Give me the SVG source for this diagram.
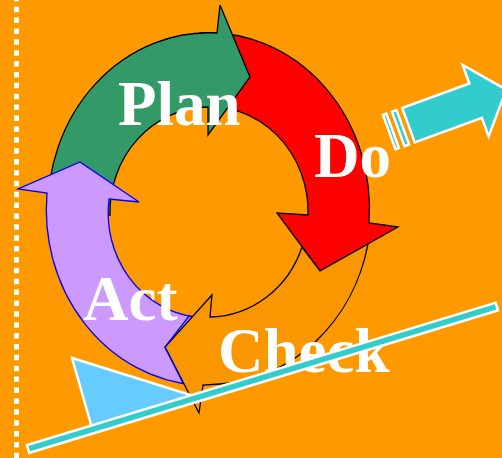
<svg xmlns="http://www.w3.org/2000/svg" width="502" height="458" viewBox="0 0 502 458">
<style>
.lbl{font-family:"Liberation Serif","Times New Roman",serif;font-weight:bold;font-size:63px;fill:#FFFFFF}
.blk{stroke:#000000;stroke-width:1.3;stroke-linejoin:miter}
.wht{stroke:#FFFFFF;stroke-width:2.5;stroke-linejoin:miter}
</style>
<rect x="0" y="0" width="502" height="458" fill="#FF9900"/>
<line x1="16.5" y1="-4.18" x2="16.5" y2="460" stroke="#FFFFFF" stroke-width="5" stroke-dasharray="5.5 5.38"/>
<g id="connectors">
<g id="do-arrow">
<path class="blk" fill="#FF0000" d="M200,33 A161 176 0 0 1 369,223 L398,227 L320,271 L277,213 L308,215 A99 105 0 0 0 200,107 Z"/>
</g>
<g id="plan-arrow">
<path class="blk" fill="#339966" d="M48,215 A161 176 0 0 1 217,33 L220,5 L250,77 L208,135 L208,107 A99 105 0 0 0 110,215 Z"/>
</g>
<g id="act-arrow">
<path stroke="#0000FF" stroke-width="1.3" fill="#CC99FF" d="M47,193 A161 176 0 0 0 195,385 L195,317 A99 105 0 0 1 109,199 L139,202 L80,162 L18,189 Z"/>
</g>
<g id="check-arrow">
<path class="blk" fill="#F99600" d="M302,247 L320,271 L368,244 A161 176 0 0 1 220,384 L203,385 L199,413 L165,347 L212,295 L210,317 A99 105 0 0 0 302,247 Z"/>
<polyline points="190,315 165,347 183,383" fill="none" stroke="#0000FF" stroke-width="1.3"/>
</g>
</g>
<g id="labels">
<text class="lbl" x="118" y="125">Plan</text>
<text class="lbl" x="314" y="177">Do</text>
<text class="lbl" x="83" y="320">Act</text>
<text class="lbl" x="218" y="372">Check</text>
</g>
<g id="out-arrow" transform="translate(407.5,125.5) rotate(-20)">
<rect class="wht" x="-19.4" y="-18.3" width="3.6" height="36.6" fill="#33CCCC"/>
<rect class="wht" x="-9.9" y="-18.3" width="4.9" height="36.6" fill="#33CCCC"/>
<path class="wht" fill="#33CCCC" d="M1,-18.3 L72.5,-18.3 L72.5,-38 L105,0 L72.5,38 L72.5,18.3 L1,18.3 Z"/>
</g>
<g id="wedge">
<polygon class="wht" fill="#66CCFF" points="72,358 92,428 197,397"/>
</g>
<g id="bar">
<rect class="wht" transform="translate(28,449) rotate(-16.9)" x="0" y="-4" width="490" height="8" fill="#33CCCC"/>
</g>
</svg>
